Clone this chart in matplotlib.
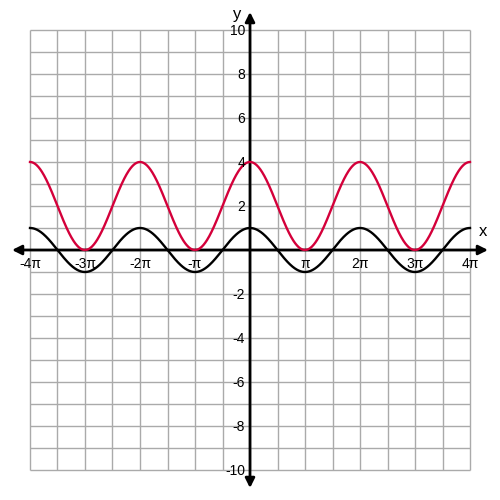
import numpy as np
import matplotlib.pyplot as plt

plt.rcParams['font.family'] = ['Liberation Sans', 'DejaVu Sans']

# curve definitions: y = offset + amp * cos(x)
red_amp, red_offset = 2, 2
black_amp, black_offset = 1, 0

x_ticks = [-4, -3, -2, -1, 1, 2, 3, 4]          # multiples of pi
x_labels = ['-4π', '-3π', '-2π', '-π', 'π', '2π', '3π', '4π']
y_ticks = [-10, -8, -6, -4, -2, 2, 4, 6, 8, 10]
y_labels = ['-10', '-8', '-6', '-4', '-2', '2', '4', '6', '8', '10']

xmax = 4 * np.pi
ymax = 10
# pixel scale: 440 px covers the grid in both directions
kx = 2 * xmax / 440
ky = 2 * ymax / 440

fig = plt.figure(figsize=(5, 5), dpi=100)
ax = fig.add_axes([0, 0, 1, 1])
ax.set_xlim(-xmax - 30 * kx, xmax + 30 * kx)
ax.set_ylim(-ymax - 30 * ky, ymax + 30 * ky)
ax.axis('off')

# grid
gx = np.arange(-8, 9) * np.pi / 2
gy = np.arange(-10, 11)
ax.vlines(gx, -ymax, ymax, color='#aaaaaa', lw=1, zorder=1)
ax.hlines(gy, -xmax, xmax, color='#aaaaaa', lw=1, zorder=1)

# axes with arrows
ax.annotate('', xy=(xmax + 18 * kx, 0), xytext=(-xmax - 18 * kx, 0),
            arrowprops=dict(arrowstyle='<|-|>', lw=2, color='black',
                            mutation_scale=14, shrinkA=0, shrinkB=0), zorder=3)
ax.annotate('', xy=(0, ymax + 18 * ky), xytext=(0, -ymax - 18 * ky),
            arrowprops=dict(arrowstyle='<|-|>', lw=2, color='black',
                            mutation_scale=14, shrinkA=0, shrinkB=0), zorder=3)

# curves
x = np.linspace(-xmax, xmax, 1000)
ax.plot(x, red_offset + red_amp * np.cos(x), color='#d4003a', lw=1.7, zorder=4)
ax.plot(x, black_offset + black_amp * np.cos(x), color='black', lw=1.7, zorder=4)

# tick labels
for t, lab in zip(x_ticks, x_labels):
    ax.text(t * np.pi, -14 * ky, lab, ha='center', va='center', fontsize=10, zorder=5)
for t, lab in zip(y_ticks, y_labels):
    ax.text(-5 * kx, t - 1 * ky, lab, ha='right', va='center', fontsize=10, zorder=5)

ax.text(xmax + 13 * kx, 18 * ky, 'x', ha='center', va='center', fontsize=12)
ax.text(-13 * kx, ymax + 16 * ky, 'y', ha='center', va='center', fontsize=12)

fig.savefig('out.png', dpi=100)
